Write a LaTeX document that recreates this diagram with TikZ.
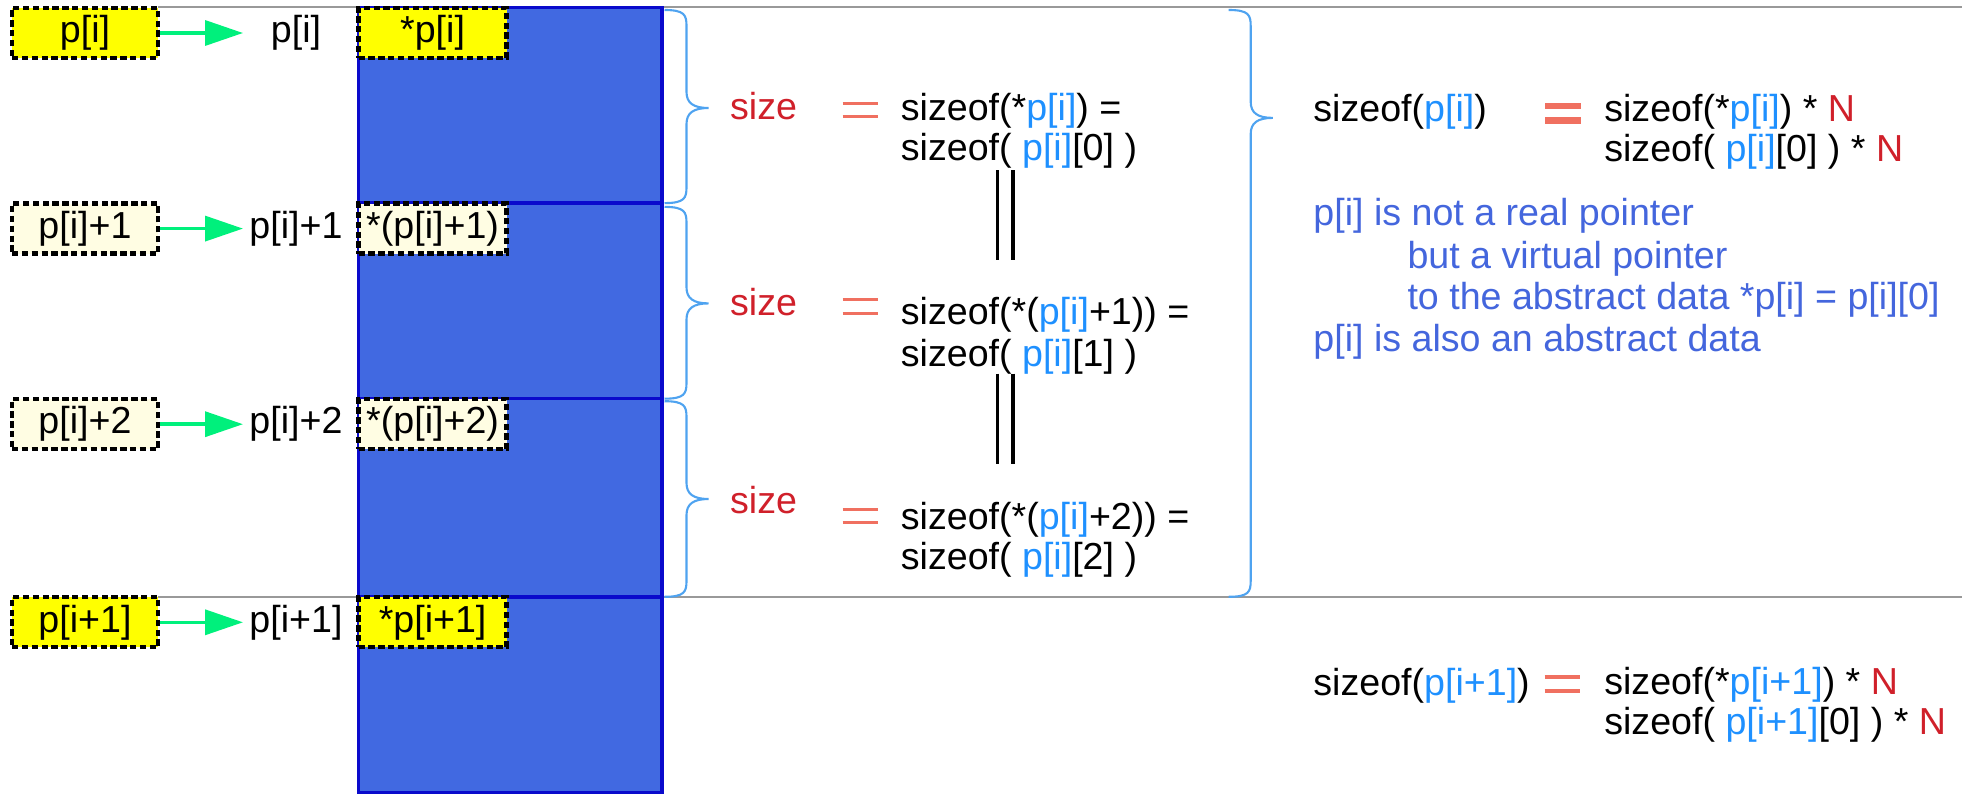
\documentclass[tikz,border=0pt]{standalone}
\usepackage{fontspec}
\setmainfont{Liberation Sans}
\usetikzlibrary{arrows.meta}

\definecolor{ptryellow}{HTML}{FFFF00}
\definecolor{ptrcream}{HTML}{FFFDE3}
\definecolor{colfill}{HTML}{4169E1}
\definecolor{coledge}{HTML}{0A0ACC}
\definecolor{arrowgreen}{HTML}{00F07C}
\definecolor{bracecol}{HTML}{4FA3F0}
\definecolor{sizered}{HTML}{D0202A}
\definecolor{eqsalmon}{HTML}{F07060}
\definecolor{idxblue}{HTML}{1E90FF}
\definecolor{notblue}{HTML}{4466DD}
\definecolor{rulegray}{HTML}{999999}

\newcommand{\pidx}[1]{\textcolor{idxblue}{#1}}
\newcommand{\nred}{\textcolor{sizered}{N}}
% brace pointing right: x, top, tip, bottom
\newcommand{\sizebraceat}[4]{%
  \draw[sizebrace] (#1,#2) .. controls (#1+0.2,#2) and (#1+0.22,#2-0.05) .. (#1+0.22,#2-0.16)
    -- (#1+0.22,#3+0.16) .. controls (#1+0.22,#3+0.05) and (#1+0.29,#3) .. (#1+0.44,#3)
    .. controls (#1+0.29,#3) and (#1+0.22,#3-0.05) .. (#1+0.22,#3-0.16)
    -- (#1+0.22,#4+0.16) .. controls (#1+0.22,#4+0.05) and (#1+0.2,#4) .. (#1,#4);}

\begin{document}
\begin{tikzpicture}[
    font=\fontsize{10.7}{12.8}\selectfont,
    ptrbox/.style={draw=black, line width=1.2pt, dash pattern=on 1.8pt off 1pt,
      fill=ptryellow, minimum width=1.46cm, minimum height=0.5cm, inner sep=0pt},
    ptrboxlt/.style={ptrbox, fill=ptrcream},
    cellbox/.style={ptrbox, minimum width=1.48cm},
    cellboxlt/.style={cellbox, fill=ptrcream},
    ptrarrow/.style={draw=arrowgreen, line width=1pt, -{Triangle[length=0.38cm,width=0.25cm]}},
    sizebrace/.style={draw=bracecol, line width=0.6pt},
    eqbar/.style={draw=eqsalmon, line width=0.9pt},
    txt/.style={inner sep=0pt, anchor=base west},
    note/.style={txt, text=notblue},
  ]
  \useasboundingbox (0,0) rectangle (19.66,-7.94);

  % grey rules
  \draw[rulegray, line width=0.6pt] (1.58,-0.07) -- (19.62,-0.07);
  \draw[rulegray, line width=0.6pt] (1.58,-5.968) -- (19.62,-5.968);

  % the array p[i][..]
  \fill[colfill] (3.586,-0.075) rectangle (6.62,-7.925);
  \draw[coledge, line width=1pt] (3.586,-0.075) rectangle (6.62,-7.925);
  \draw[coledge, line width=1pt] (3.586,-2.031) -- (6.62,-2.031);
  \draw[coledge, line width=1pt] (3.586,-3.987) -- (6.62,-3.987);
  \draw[coledge, line width=1pt] (3.586,-5.968) -- (6.62,-5.968);

  \node[cellbox] (c0) at (4.326,-0.33) {*p[i]};
  \node[cellboxlt] (c1) at (4.326,-2.286) {*(p[i]+1)};
  \node[cellboxlt] (c2) at (4.326,-4.242) {*(p[i]+2)};
  \node[cellbox] (c3) at (4.326,-6.223) {*p[i+1]};

  % pointers
  \node[ptrbox] (b0) at (0.85,-0.33) {p[i]};
  \node[ptrboxlt] (b1) at (0.85,-2.286) {p[i]+1};
  \node[ptrboxlt] (b2) at (0.85,-4.242) {p[i]+2};
  \node[ptrbox] (b3) at (0.85,-6.223) {p[i+1]};

  \node (l0) at (2.96,-0.33) {p[i]};
  \node (l1) at (2.96,-2.286) {p[i]+1};
  \node (l2) at (2.96,-4.242) {p[i]+2};
  \node (l3) at (2.96,-6.223) {p[i+1]};

  \coordinate (t0) at (2.43,-0.33);
  \coordinate (t1) at (2.43,-2.286);
  \coordinate (t2) at (2.43,-4.242);
  \coordinate (t3) at (2.43,-6.223);

  \draw[ptrarrow] (b0) -- (t0);
  \draw[ptrarrow] (b1) -- (t1);
  \draw[ptrarrow] (b2) -- (t2);
  \draw[ptrarrow] (b3) -- (t3);

  % braces
  \sizebraceat{6.645}{-0.10}{-1.08}{-2.031}
  \sizebraceat{6.645}{-2.069}{-3.034}{-3.987}
  \sizebraceat{6.645}{-4.012}{-4.99}{-5.968}
  \sizebraceat{12.287}{-0.10}{-1.179}{-5.968}

  % sizes of the rows
  \node[txt, anchor=base, text=sizered] (s0) at (7.636,-1.20) {size};
  \node[txt, anchor=base, text=sizered] (s1) at (7.636,-3.156) {size};
  \node[txt, anchor=base, text=sizered] (s2) at (7.636,-5.13) {size};

  \draw[eqbar] (8.425,-1.032) -- (8.777,-1.032);
  \draw[eqbar] (8.425,-1.168) -- (8.777,-1.168);
  \draw[eqbar] (8.425,-2.998) -- (8.777,-2.998);
  \draw[eqbar] (8.425,-3.134) -- (8.777,-3.134);
  \draw[eqbar] (8.425,-5.091) -- (8.777,-5.091);
  \draw[eqbar] (8.425,-5.227) -- (8.777,-5.227);

  \node[txt] (f0a) at (9.002,-1.203) {sizeof(*\pidx{p[i]}) =};
  \node[txt] (f0b) at (9.002,-1.603) {sizeof( \pidx{p[i]}[0] )};
  \node[txt] (f1a) at (9.002,-3.247) {sizeof(*(\pidx{p[i]}+1)) =};
  \node[txt] (f1b) at (9.002,-3.661) {sizeof( \pidx{p[i]}[1] )};
  \node[txt] (f2a) at (9.002,-5.291) {sizeof(*(\pidx{p[i]}+2)) =};
  \node[txt] (f2b) at (9.002,-5.692) {sizeof( \pidx{p[i]}[2] )};

  \draw[line width=1pt] (9.975,-1.705) -- (9.975,-2.595);
  \draw[line width=1pt] (10.131,-1.705) -- (10.131,-2.595);
  \draw[line width=1pt] (9.975,-3.736) -- (9.975,-4.639);
  \draw[line width=1pt] (10.131,-3.736) -- (10.131,-4.639);

  % size of p[i]
  \node[txt] (z0) at (13.127,-1.216) {sizeof(\pidx{p[i]})};
  \draw[eqsalmon, line width=1.9pt] (15.45,-1.06) -- (15.81,-1.06);
  \draw[eqsalmon, line width=1.9pt] (15.45,-1.207) -- (15.81,-1.207);
  \node[txt] (r0a) at (16.036,-1.216) {sizeof(*\pidx{p[i]}) * \nred};
  \node[txt] (r0b) at (16.036,-1.617) {sizeof( \pidx{p[i]}[0] ) * \nred};

  \node[note] (n0) at (13.127,-2.257) {p[i] is not a real pointer};
  \node[note] (n1) at (14.068,-2.683) {but a virtual pointer};
  \node[note] (n2) at (14.068,-3.097) {to the abstract data *p[i] = p[i][0]};
  \node[note] (n3) at (13.127,-3.510) {p[i] is also an abstract data};

  % size of p[i+1]
  \node[txt] (z1) at (13.127,-6.958) {sizeof(\pidx{p[i+1]})};
  \draw[eqbar] (15.447,-6.77) -- (15.798,-6.77);
  \draw[eqbar] (15.447,-6.91) -- (15.798,-6.91);
  \node[txt] (r1a) at (16.036,-6.946) {sizeof(*\pidx{p[i+1]}) * \nred};
  \node[txt] (r1b) at (16.036,-7.347) {sizeof( \pidx{p[i+1]}[0] ) * \nred};

\end{tikzpicture}
\end{document}
